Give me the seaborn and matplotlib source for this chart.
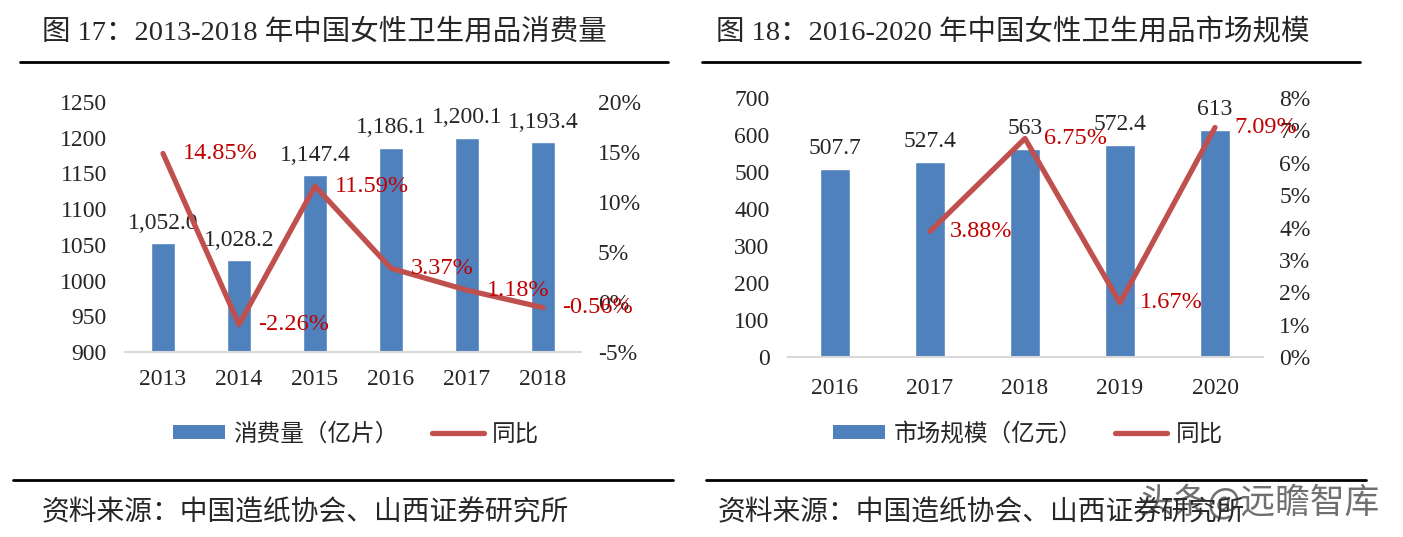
import numpy as np
import pandas as pd
import matplotlib
matplotlib.use("Agg")
import matplotlib.pyplot as plt
import seaborn as sns
from matplotlib.lines import Line2D
from matplotlib.patches import Patch
from matplotlib.ticker import FuncFormatter, MultipleLocator

# DATA

years_a = ["2013", "2014", "2015", "2016", "2017", "2018"]
volume_a = [1052.0, 1028.2, 1147.4, 1186.1, 1200.1, 1193.4]
yoy_a = [14.85, -2.26, 11.59, 3.37, 1.18, -0.56]

years_b = ["2016", "2017", "2018", "2019", "2020"]
market_b = [507.7, 527.4, 563.0, 572.4, 613.0]
yoy_b = [np.nan, 3.88, 6.75, 1.67, 7.09]

title_a = "图 17：2013-2018 年中国女性卫生用品消费量"
title_b = "图 18：2016-2020 年中国女性卫生用品市场规模"
bar_name_a = "消费量（亿片）"
bar_name_b = "市场规模（亿元）"
line_name = "同比"
source = "资料来源：中国造纸协会、山西证券研究所"

# STYLE

sns.set_style("white")
SERIF = ["Liberation Serif", "Noto Sans CJK SC"]
CJK = ["Noto Sans CJK SC", "DejaVu Sans"]
plt.rcParams["font.family"] = SERIF

BLUE = "#4F81BD"
RED = "#C0504D"
LABEL_RED = "#C00000"
GRID = "#D9D9D9"
NUM = 17

fig = plt.figure(figsize=(14.03, 5.37), dpi=100)


def draw_panel(rect, years, bars, yoy, ylim, ystep, y2lim, y2step,
               bar_fmt, between_ticks, xpad):
    ax = fig.add_axes(rect)
    df = pd.DataFrame({"year": years, "value": bars})
    sns.barplot(data=df, x="year", y="value", color=BLUE, width=0.32,
                saturation=1, ax=ax)
    ax.set_ylim(*ylim)
    ax.yaxis.set_major_locator(MultipleLocator(ystep))
    ax.set_xlabel("")
    ax.set_ylabel("")
    ax.set_xlim(-0.5, len(years) - 0.5)
    for s in ["top", "right", "left"]:
        ax.spines[s].set_visible(False)
    ax.spines["bottom"].set_color(GRID)
    ax.spines["bottom"].set_linewidth(1.5)
    ax.tick_params(axis="y", length=0, labelsize=NUM, pad=13)
    ax.tick_params(axis="x", length=0, labelsize=NUM, pad=xpad)
    if between_ticks:
        ax.set_xticks(np.arange(len(years) + 1) - 0.5, minor=True)
        ax.tick_params(axis="x", which="minor", length=6, color=GRID, width=1.5)
    ax.bar_label(ax.containers[0], labels=[bar_fmt(v) for v in bars],
                 padding=7, fontsize=NUM)

    ax2 = ax.twinx()
    pos = np.arange(len(years))
    pct = np.array(yoy) / 100
    ok = ~np.isnan(pct)
    sns.lineplot(x=pos[ok], y=pct[ok], color=RED, linewidth=3.8, ax=ax2)
    ax2.set_ylim(*y2lim)
    ax2.yaxis.set_major_locator(MultipleLocator(y2step))
    ax2.yaxis.set_major_formatter(FuncFormatter(lambda v, p: f"{v * 100:.0f}%"))
    ax2.tick_params(axis="y", length=0, labelsize=NUM, pad=12)
    for s in ["top", "right", "left", "bottom"]:
        ax2.spines[s].set_visible(False)
    for x, v in zip(pos[ok], np.array(yoy)[ok]):
        ax2.annotate(f"{v:.2f}%", (x, v / 100), xytext=(14, 0),
                     textcoords="offset points", ha="left", va="center",
                     color=LABEL_RED, fontsize=17.5)
    return ax


# LEFT PANEL
draw_panel([125 / 1403, 185 / 537, 456 / 1403, 250 / 537],
           years_a, volume_a, yoy_a, (900, 1250), 50, (-0.05, 0.20), 0.05,
           lambda v: f"{v:,.1f}", True, 12)

# RIGHT PANEL
draw_panel([787.5 / 1403, 180 / 537, 475 / 1403, 259 / 537],
           years_b, market_b, yoy_b, (0, 700), 100, (0, 0.08), 0.01,
           lambda v: f"{v:g}", False, 15)

# TITLES, RULES, SOURCES

fig.text(42 / 1403, 1 - 32 / 537, title_a, fontsize=20.5, va="center",
         family=SERIF)
fig.text(716 / 1403, 1 - 32 / 537, title_b, fontsize=20.5, va="center",
         family=SERIF)

for x0, x1, y in [(20, 668, 62), (702, 1360, 62), (13, 673, 480), (706, 1366, 480)]:
    fig.add_artist(Line2D([x0 / 1403, x1 / 1403], [1 - y / 537, 1 - y / 537],
                          color="black", linewidth=2, transform=fig.transFigure))

fig.text(42 / 1403, 1 - 512 / 537, source, fontsize=20, va="center", family=CJK)
fig.text(718 / 1403, 1 - 512 / 537, source, fontsize=20, va="center", family=CJK)
fig.text(1138 / 1403, 1 - 502 / 537, "头条@远瞻智库", fontsize=25, va="center",
         family=CJK, color="#333333", alpha=0.7)

# LEGENDS

for name, cx in [(bar_name_a, 356 / 1403), (bar_name_b, 1028 / 1403)]:
    handles = [Patch(facecolor=BLUE, edgecolor="none"),
               Line2D([0], [0], color=RED, linewidth=3.8)]
    leg = fig.legend(handles, [name, line_name], ncol=2, frameon=False,
                     loc="center", bbox_to_anchor=(cx, 1 - 434 / 537),
                     prop={"family": CJK, "size": 17}, handlelength=2.2,
                     handleheight=0.5, columnspacing=1.4, handletextpad=0.35)

fig.savefig("out.png", dpi=100)
